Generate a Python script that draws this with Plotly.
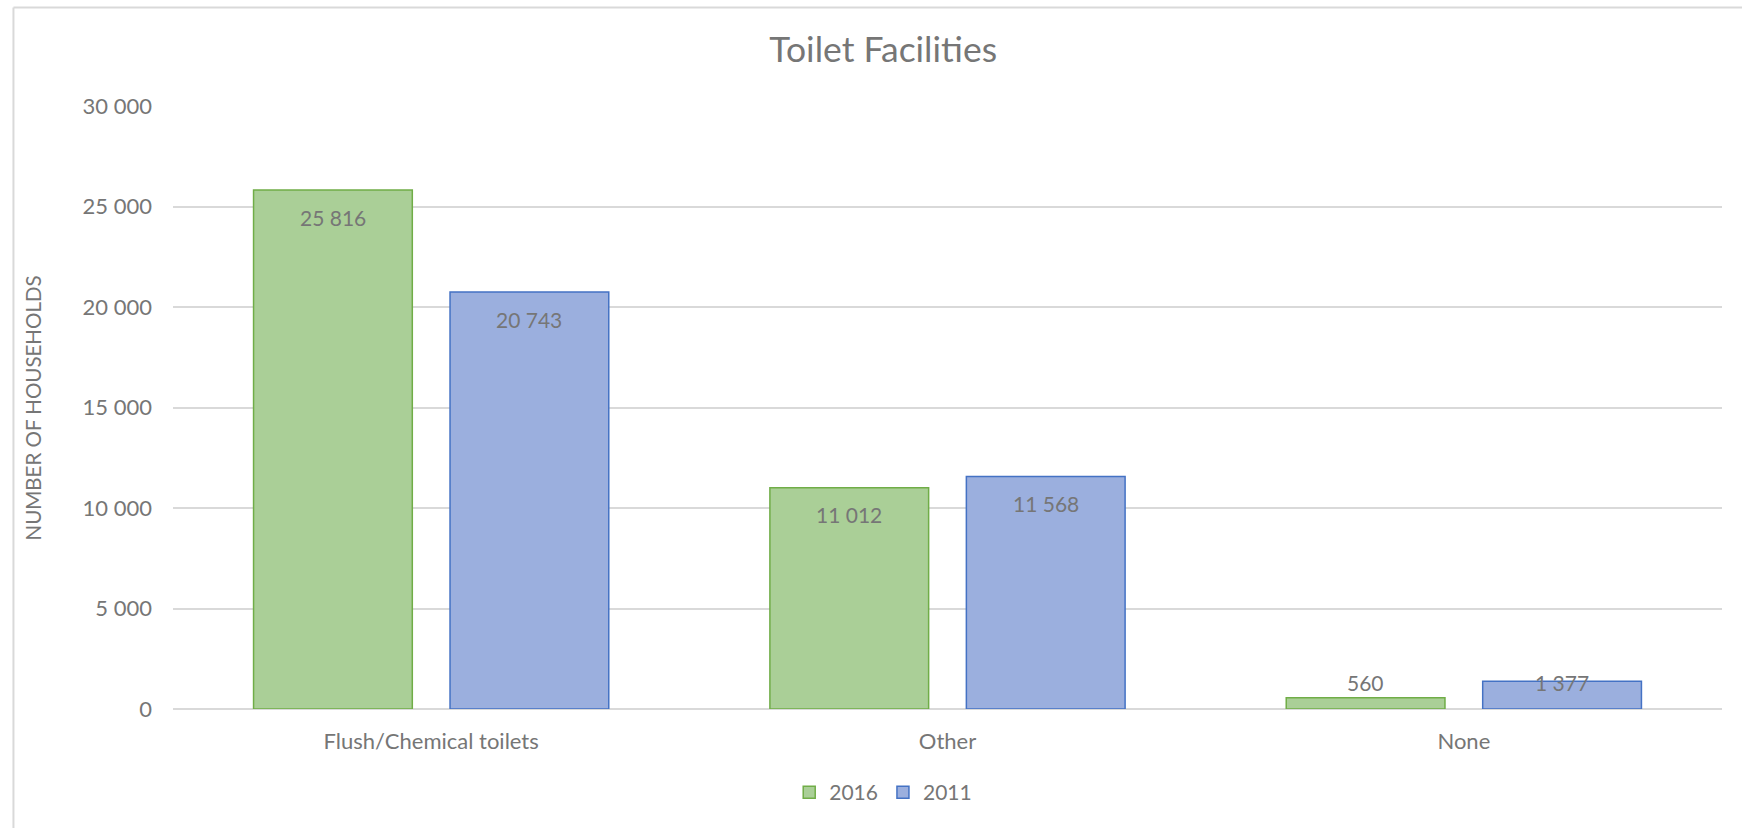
import plotly.graph_objects as go

# Household counts by type of toilet facility, census 2016 vs 2011
categories = ["Flush/Chemical toilets", "Other", "None"]
values_2016 = [25816, 11012, 560]
values_2011 = [20743, 11568, 1377]
y_ticks = [0, 5000, 10000, 15000, 20000, 25000, 30000]

TEXT = "#767676"
FONT = "Lato, 'Open Sans', sans-serif"
GRID = "#d9d9d9"

BARGAP = 0.239
BAR_OFFSET = (1 - BARGAP) / 4  # centre of each bar relative to its category
LABEL_FLOOR = 2650             # short bars get their label lifted to this level


def fmt(v):
    return f"{v:,}".replace(",", " ")


fig = go.Figure()
fig.add_trace(go.Bar(
    name="2016", x=categories, y=values_2016,
    marker=dict(color="#aacf97", line=dict(color="#70ad47", width=1.5)),
))
fig.add_trace(go.Bar(
    name="2011", x=categories, y=values_2011,
    marker=dict(color="#9bafde", line=dict(color="#4472c4", width=1.5)),
))

# value labels just inside the top of each bar
for series, shift in ((values_2016, -BAR_OFFSET), (values_2011, BAR_OFFSET)):
    for i, v in enumerate(series):
        fig.add_annotation(
            x=i + shift, y=max(v, LABEL_FLOOR), xref="x", yref="y",
            text=fmt(v), showarrow=False, yanchor="middle", yshift=-27,
            font=dict(family=FONT, size=21, color=TEXT),
        )

# y axis title
fig.add_annotation(
    text="NUMBER OF HOUSEHOLDS", textangle=-90, showarrow=False,
    xref="paper", yref="paper", x=-0.0904, y=0.5,
    xanchor="center", yanchor="middle",
    font=dict(family=FONT, size=20.5, color=TEXT),
)

# chart-area frame (top and left edges)
fig.add_shape(type="line", xref="paper", yref="paper",
              x0=-0.103, x1=1.05, y0=1.1635, y1=1.1635,
              line=dict(color=GRID, width=2))
fig.add_shape(type="line", xref="paper", yref="paper",
              x0=-0.103, x1=-0.103, y0=1.1635, y1=-0.25,
              line=dict(color=GRID, width=2))

fig.update_layout(
    width=1742, height=828,
    margin=dict(l=173, r=20, t=106, b=119, autoexpand=False),
    paper_bgcolor="white", plot_bgcolor="white",
    separators=". ",
    barmode="group", bargap=BARGAP, bargroupgap=0.192,
    font=dict(family=FONT, size=21, color=TEXT),
    title=dict(
        text="Toilet Facilities", x=0.507, xanchor="center",
        y=1 - 50 / 828, yanchor="middle", yref="container",
        font=dict(family=FONT, size=35.5, color=TEXT),
    ),
    xaxis=dict(
        showgrid=False, showline=False, zeroline=False, ticks="",
        ticklabelstandoff=17,
        tickfont=dict(family=FONT, size=22, color=TEXT),
    ),
    yaxis=dict(
        range=[0, 30000], tickvals=y_ticks, tickformat=",d",
        showgrid=True, gridcolor=GRID, gridwidth=1.5,
        zeroline=True, zerolinecolor=GRID, zerolinewidth=1.5,
        showline=False, ticks="", ticklabelstandoff=20,
        tickfont=dict(family=FONT, size=22, color=TEXT),
    ),
    legend=dict(
        orientation="h", x=0.4585, xanchor="center",
        y=-0.1387, yanchor="middle",
        font=dict(family=FONT, size=21, color=TEXT),
        itemwidth=30,
    ),
    showlegend=True,
)

fig.write_html("out.html")
